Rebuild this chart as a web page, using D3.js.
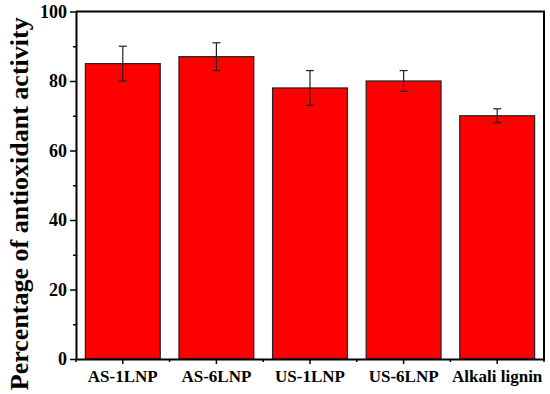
<!DOCTYPE html>
<html>
<head>
<meta charset="utf-8">
<script src="https://cdn.jsdelivr.net/npm/d3@7"></script>
<style>
body { margin: 0; background: #fff; }
text { font-family: "Liberation Serif", "Times New Roman", serif; font-weight: bold; fill: #000; }
</style>
</head>
<body>
<svg id="chart" width="550" height="394"></svg>
<script>
var samples = ["AS-1LNP", "AS-6LNP", "US-1LNP", "US-6LNP", "Alkali lignin"];
var activity = [85, 87, 78, 80, 70];
var errLow = [80, 83, 73, 77, 68];
var errHigh = [90, 91, 83, 83, 72];
var yTicks = [0, 20, 40, 60, 80, 100];

var plotLeft = 76, plotRight = 544, plotTop = 11.5, plotBottom = 359;
var svg = d3.select("#chart");

var x = d3.scaleBand().domain(samples).range([plotLeft, plotRight]).padding(0);
var y = d3.scaleLinear().domain([0, 100]).range([plotBottom, plotTop]);
var barW = x.bandwidth() * 0.8;

// bars
svg.selectAll("rect.bar")
    .data(samples)
    .enter().append("rect")
    .attr("class", "bar")
    .attr("x", function(d) { return x(d) + (x.bandwidth() - barW) / 2; })
    .attr("y", function(d, i) { return y(activity[i]); })
    .attr("width", barW)
    .attr("height", function(d, i) { return plotBottom - y(activity[i]); })
    .attr("fill", "#ff0000")
    .attr("stroke", "#222")
    .attr("stroke-width", 1.2);

// error bars
var cx = function(d) { return x(d) + x.bandwidth() / 2; };
var eb = svg.selectAll("g.err").data(samples).enter().append("g").attr("class", "err")
    .attr("stroke", "#222").attr("stroke-width", 1.2);
eb.append("line")
    .attr("x1", cx).attr("x2", cx)
    .attr("y1", function(d, i) { return y(errLow[i]); })
    .attr("y2", function(d, i) { return y(errHigh[i]); });
eb.append("line")
    .attr("x1", function(d) { return cx(d) - 4; }).attr("x2", function(d) { return cx(d) + 4; })
    .attr("y1", function(d, i) { return y(errLow[i]); })
    .attr("y2", function(d, i) { return y(errLow[i]); });
eb.append("line")
    .attr("x1", function(d) { return cx(d) - 4; }).attr("x2", function(d) { return cx(d) + 4; })
    .attr("y1", function(d, i) { return y(errHigh[i]); })
    .attr("y2", function(d, i) { return y(errHigh[i]); });

// frame top/right
svg.append("path")
    .attr("d", "M" + plotLeft + "," + plotTop + "H" + plotRight + "V" + plotBottom)
    .attr("fill", "none").attr("stroke", "#000").attr("stroke-width", 2);

// y axis
var yAxis = d3.axisLeft(y).tickValues(yTicks).tickSize(6).tickPadding(3).tickSizeOuter(0);
var gy = svg.append("g").attr("transform", "translate(" + plotLeft + ",0)").call(yAxis);
gy.select(".domain").attr("stroke-width", 2);
gy.selectAll(".tick line").attr("stroke-width", 1.5);
gy.selectAll("text").style("font-size", "18px");
var yMinor = d3.axisLeft(y).tickValues([10, 30, 50, 70, 90]).tickSize(3).tickFormat("").tickSizeOuter(0);
var gym = svg.append("g").attr("transform", "translate(" + plotLeft + ",0)").call(yMinor);
gym.select(".domain").remove();
gym.selectAll(".tick line").attr("stroke-width", 1.5);

// x axis
var xAxis = d3.axisBottom(x).tickSize(5).tickPadding(6).tickSizeOuter(0);
var gx = svg.append("g").attr("transform", "translate(0," + plotBottom + ")").call(xAxis);
gx.select(".domain").attr("stroke-width", 2);
gx.selectAll(".tick line").attr("stroke-width", 1.5);
gx.selectAll("text").style("font-size", "17px");
var bounds = samples.map(function(d) { return x(d); }).concat([plotRight]);
gx.selectAll("line.minor").data(bounds).enter().append("line")
    .attr("class", "minor")
    .attr("x1", function(d) { return d; }).attr("x2", function(d) { return d; })
    .attr("y1", 0).attr("y2", 3)
    .attr("stroke", "#000").attr("stroke-width", 1.5);

// y label
svg.append("text")
    .attr("transform", "translate(28," + ((plotTop + 390) / 2 + 3) + ") rotate(-90)")
    .attr("text-anchor", "middle")
    .style("font-size", "26px")
    .text("Percentage of antioxidant activity");
</script>
</body>
</html>
